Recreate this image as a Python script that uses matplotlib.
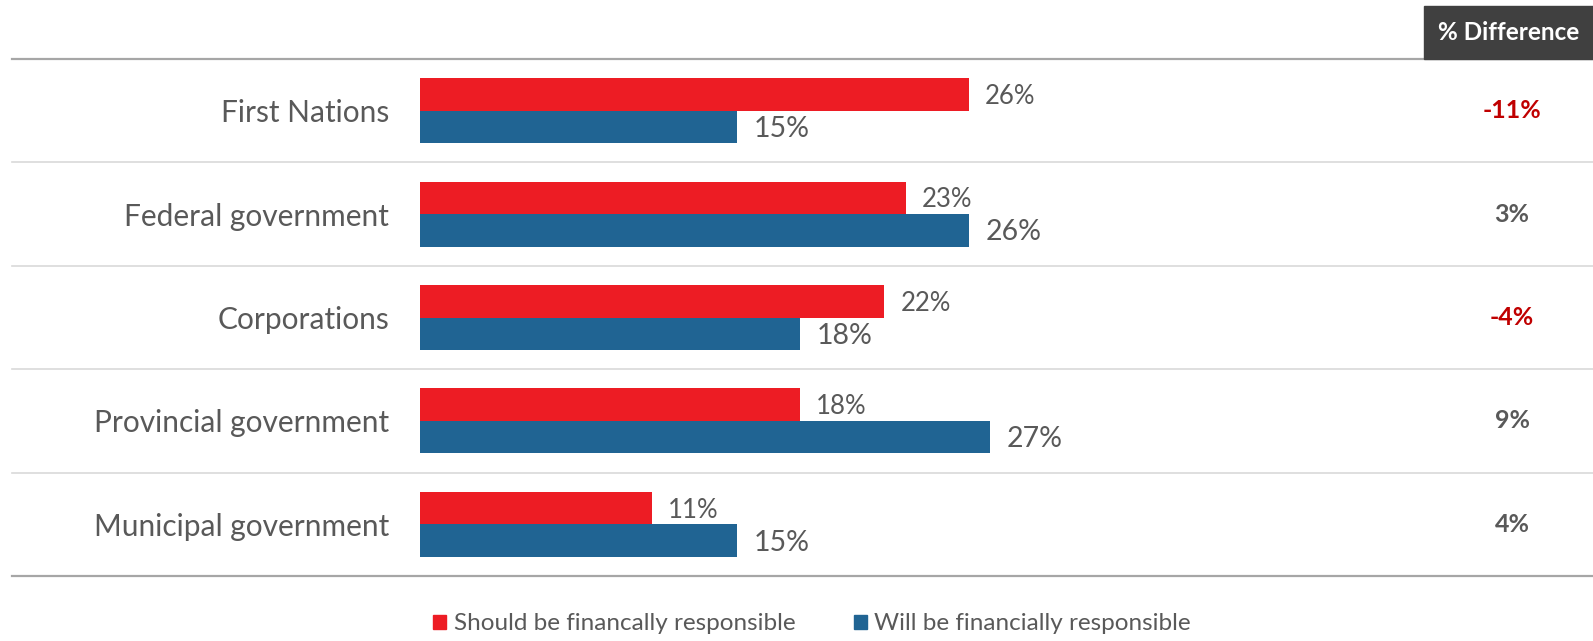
import matplotlib.pyplot as plt
from matplotlib.patches import Rectangle, Patch

plt.rcParams['font.family'] = ['Lato', 'DejaVu Sans']

# survey results, % of respondents
categories = ['First Nations', 'Federal government', 'Corporations',
              'Provincial government', 'Municipal government']
should_pay = [26, 23, 22, 18, 11]
will_pay = [15, 26, 18, 27, 15]
legend_labels = ['Should be financally responsible', 'Will be financially responsible']

RED = '#ED1C24'
BLUE = '#206493'
GREY = '#595959'

W, H = 1593, 641
fig = plt.figure(figsize=(W / 100, H / 100), dpi=100)

# axes box in pixels: bars start at x0, rows span top..bottom
x0, top, bottom = 419.6, 59, 576
px_per_pct = 21.13
ax = fig.add_axes([x0 / W, 1 - bottom / H, (W - x0) / W, (bottom - top) / H])
ax.set_xlim(0, (W - x0) / px_per_pct)
ax.set_ylim(len(categories) - 0.5, -0.5)

h = 0.315
ypos = range(len(categories))
ax.barh([y - h / 2 for y in ypos], should_pay, height=h, color=RED)
ax.barh([y + h / 2 for y in ypos], will_pay, height=h, color=BLUE)

for y, s, w in zip(ypos, should_pay, will_pay):
    ax.text(s + 0.75, y - h / 2 + 0.02, f'{s}%', va='center', ha='left',
            fontsize=18.5, color=GREY)
    ax.text(w + 0.8, y + h / 2 + 0.02, f'{w}%', va='center', ha='left',
            fontsize=20.5, color=GREY)

ax.set_yticks(list(ypos))
ax.set_yticklabels(categories, fontsize=21.5, color=GREY)
ax.tick_params(axis='y', length=0, pad=22)
ax.set_xticks([])
for sp in ax.spines.values():
    sp.set_visible(False)

# row separators, running left of the bars too
xfrac = (12 - x0) / (W - x0)
trans = ax.get_yaxis_transform()
for k in range(len(categories) + 1):
    yy = k - 0.5
    edge = k in (0, len(categories))
    ax.plot([xfrac, 1], [yy, yy], transform=trans, clip_on=False,
            color='#A6A6A6' if edge else '#D9D9D9', lw=1.6 if edge else 1.2)

# difference column
box_l = 1424
fig.patches.append(Rectangle((box_l / W, 1 - top / H), (W - box_l) / W, (top - 6) / H,
                             transform=fig.transFigure, color='#404040', zorder=0))
fig.text((box_l + W) / 2 / W, 1 - 32 / H, '% Difference', ha='center', va='center',
         color='white', fontsize=17.5, fontweight='bold')
for y, s, w in zip(ypos, should_pay, will_pay):
    d = w - s
    ax.text((1512 - x0) / (W - x0), y, f'{d}%', transform=trans, ha='center',
            va='center', fontsize=18, fontweight='bold',
            color='#C00000' if d < 0 else GREY, clip_on=False)

handles = [Patch(color=RED), Patch(color=BLUE)]
fig.legend(handles, legend_labels, loc='center', bbox_to_anchor=(812 / W, 17 / H),
           ncol=2, frameon=False, fontsize=17.5, labelcolor=GREY,
           handlelength=0.55, handleheight=0.55, handletextpad=0.3,
           columnspacing=2.4, borderaxespad=0)

fig.savefig('out.png', dpi=100)
